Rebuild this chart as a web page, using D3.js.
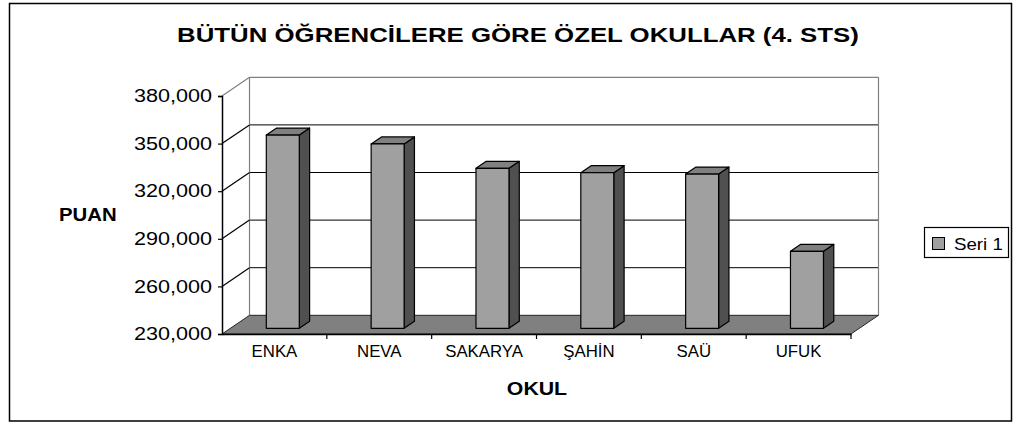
<!DOCTYPE html>
<html>
<head>
<meta charset="utf-8">
<script src="https://cdn.jsdelivr.net/npm/d3@7"></script>
<style>
  body { margin: 0; background: #fff; }
  svg { display: block; font-family: "Liberation Sans", Arial, sans-serif; }
</style>
</head>
<body>
<div id="chart"></div>
<script>
// data
const categories = ["ENKA", "NEVA", "SAKARYA", "ŞAHİN", "SAÜ", "UFUK"];
const values = [351800, 346200, 330800, 328100, 327200, 278500];
const tickValues = [230000, 260000, 290000, 320000, 350000, 380000];
const seriesName = "Seri 1";

const W = 1020, H = 424;
const svg = d3.select("#chart").append("svg").attr("width", W).attr("height", H);

// front plane of the 3d box, depth offset
const x0 = 222, x1 = 851;
const DX = 27.5, DY = 18.7;
const zFront = 0.305, zBack = 0.68;
const barW = 33;

const x = d3.scaleBand().domain(categories).range([x0, x1]).padding(0);
const y = d3.scaleLinear().domain([230000, 380000]).range([334, 96]);
const fmt = d3.format(",");

// stretch text horizontally (the picture is a bit wider than normal)
function stretch(sel, k) {
  sel.each(function () {
    const w = this.getComputedTextLength();
    d3.select(this).attr("textLength", w * k).attr("lengthAdjust", "spacingAndGlyphs");
  });
}

// outer frame
svg.append("rect")
   .attr("x", 9.5).attr("y", 3.5)
   .attr("width", 1002).attr("height", 417.5)
   .attr("fill", "none").attr("stroke", "#000").attr("stroke-width", 1.5);

const yTop = y(380000), yBot = y(230000);

// back wall
const back = svg.append("g");
back.selectAll("line.grid")
    .data(tickValues.filter(t => t > 230000 && t < 380000))
    .enter().append("line")
    .attr("x1", x0 + DX).attr("x2", x1 + DX)
    .attr("y1", d => y(d) - DY).attr("y2", d => y(d) - DY)
    .attr("stroke", "#000").attr("stroke-width", 1);
back.append("line")
    .attr("x1", x0 + DX).attr("x2", x1 + DX)
    .attr("y1", yTop - DY).attr("y2", yTop - DY)
    .attr("stroke", "#808080").attr("stroke-width", 1.2);
back.append("line")
    .attr("x1", x0 + DX).attr("x2", x0 + DX)
    .attr("y1", yTop - DY).attr("y2", yBot - DY)
    .attr("stroke", "#808080").attr("stroke-width", 1.2);
back.append("line")
    .attr("x1", x1 + DX).attr("x2", x1 + DX)
    .attr("y1", yTop - DY).attr("y2", yBot - DY)
    .attr("stroke", "#808080").attr("stroke-width", 1.2);

// side wall diagonals
back.selectAll("line.diag")
    .data(tickValues.filter(t => t > 230000))
    .enter().append("line")
    .attr("x1", x0).attr("x2", x0 + DX)
    .attr("y1", d => y(d)).attr("y2", d => y(d) - DY)
    .attr("stroke", d => d === 380000 ? "#808080" : "#000")
    .attr("stroke-width", 1.2);

// floor
svg.append("polygon")
   .attr("points", [[x0, yBot], [x1, yBot], [x1 + DX, yBot - DY], [x0 + DX, yBot - DY]].join(" "))
   .attr("fill", "#808080").attr("stroke", "#000").attr("stroke-width", 0.8);

// bars
const bars = svg.append("g").selectAll("g").data(categories).enter().append("g");
bars.each(function (c, i) {
  const g = d3.select(this);
  const xl = x(c) + (x.bandwidth() - barW) / 2;
  const xr = xl + barW;
  const yt = y(values[i]);
  const p = (px, py, z) => [px + z * DX, py - z * DY];
  const front = [p(xl, yt, zFront), p(xr, yt, zFront), p(xr, yBot, zFront), p(xl, yBot, zFront)];
  const side = [p(xr, yt, zFront), p(xr, yt, zBack), p(xr, yBot, zBack), p(xr, yBot, zFront)];
  const top = [p(xl, yt, zFront), p(xl, yt, zBack), p(xr, yt, zBack), p(xr, yt, zFront)];
  g.append("polygon").attr("points", side.join(" "))
   .attr("fill", "#505050").attr("stroke", "#000").attr("stroke-width", 1.2).attr("stroke-linejoin", "round");
  g.append("polygon").attr("points", top.join(" "))
   .attr("fill", "#808080").attr("stroke", "#000").attr("stroke-width", 1.2).attr("stroke-linejoin", "round");
  g.append("polygon").attr("points", front.join(" "))
   .attr("fill", "#a0a0a0").attr("stroke", "#000").attr("stroke-width", 1.2).attr("stroke-linejoin", "round");
});

// y axis
const yAxis = svg.append("g").attr("transform", `translate(${x0},0)`)
   .call(d3.axisLeft(y).tickValues(tickValues).tickSize(4).tickPadding(6).tickFormat(fmt));
yAxis.select(".domain").attr("stroke", "#000").attr("stroke-width", 1.5);
yAxis.selectAll(".tick line").attr("stroke", "#000").attr("stroke-width", 1.2);
yAxis.selectAll("text")
     .attr("font-size", 18).attr("fill", "#000")
     .attr("font-family", "Liberation Sans, Arial, sans-serif")
     .call(stretch, 1.2);

// x axis
const xAxis = svg.append("g").attr("transform", `translate(0,${yBot})`)
   .call(d3.axisBottom(x).tickSize(0).tickPadding(12));
xAxis.select(".domain").attr("stroke", "#000").attr("stroke-width", 1.5);
xAxis.selectAll("text")
     .attr("font-size", 16).attr("fill", "#000")
     .attr("font-family", "Liberation Sans, Arial, sans-serif")
     .call(stretch, 1.05);
svg.append("g").selectAll("line")
   .data(categories.slice(1).concat([null]))
   .enter().append("line")
   .attr("x1", (d, i) => x0 + x.step() * (i + 1))
   .attr("x2", (d, i) => x0 + x.step() * (i + 1))
   .attr("y1", yBot).attr("y2", yBot + 5)
   .attr("stroke", "#000").attr("stroke-width", 1.2);

// titles
svg.append("text")
   .attr("x", 518).attr("y", 42)
   .attr("text-anchor", "middle")
   .attr("font-size", 20).attr("font-weight", "bold")
   .text("BÜTÜN ÖĞRENCİLERE GÖRE ÖZEL OKULLAR (4. STS)")
   .call(stretch, 1.29);
svg.append("text")
   .attr("x", 537).attr("y", 395)
   .attr("text-anchor", "middle")
   .attr("font-size", 18.5).attr("font-weight", "bold")
   .text("OKUL")
   .call(stretch, 1.15);
svg.append("text")
   .attr("x", 59).attr("y", 221)
   .attr("font-size", 18.5).attr("font-weight", "bold")
   .text("PUAN")
   .call(stretch, 1.1);

// legend
const legend = svg.append("g").attr("transform", "translate(924,227)");
legend.append("rect")
   .attr("x", 0.5).attr("y", 0.5).attr("width", 84).attr("height", 30)
   .attr("fill", "#fff").attr("stroke", "#000").attr("stroke-width", 1.2);
legend.append("rect")
   .attr("x", 8.5).attr("y", 10.5).attr("width", 12).attr("height", 12)
   .attr("fill", "#a0a0a0").attr("stroke", "#000").attr("stroke-width", 1);
legend.append("text")
   .attr("x", 30).attr("y", 23)
   .attr("font-size", 17)
   .text(seriesName)
   .call(stretch, 1.1);
</script>
</body>
</html>
